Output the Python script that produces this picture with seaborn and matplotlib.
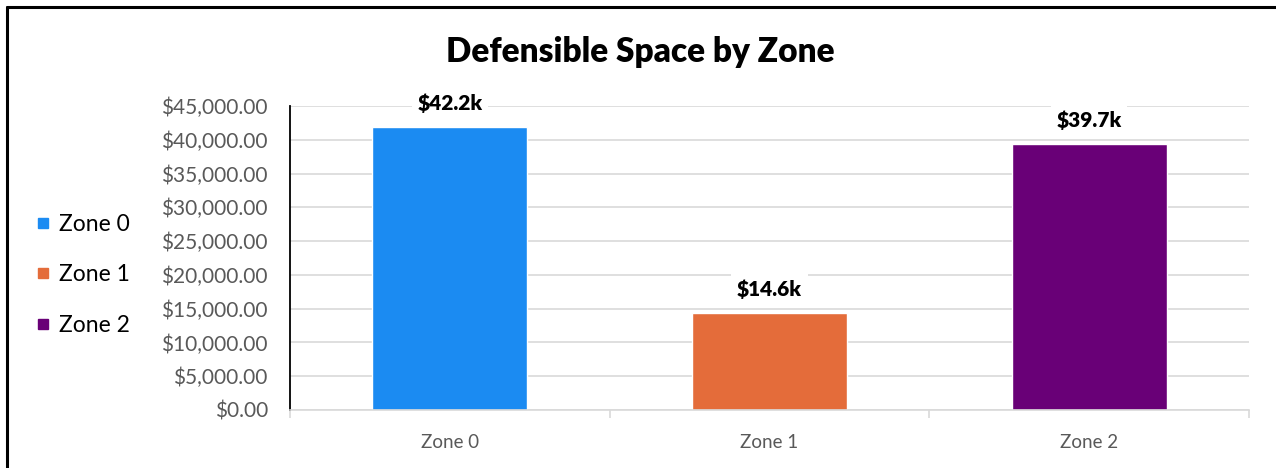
import matplotlib
matplotlib.use("Agg")
import matplotlib.pyplot as plt
from matplotlib.lines import Line2D
from matplotlib.ticker import FuncFormatter, FixedLocator
import seaborn as sns
import pandas as pd

# data
zones = ["Zone 0", "Zone 1", "Zone 2"]
costs = [41850, 14350, 39400]
cost_labels = ["$42.2k", "$14.6k", "$39.7k"]
colors = ["#1B8BF2", "#E46C3A", "#690077"]

df = pd.DataFrame({"zone": zones, "cost": costs})

sns.set_style("white")
plt.rcParams["font.family"] = ["Lato", "DejaVu Sans"]
plt.rcParams["text.color"] = "black"

fig = plt.figure(figsize=(12.76, 4.68), dpi=100)
ax = fig.add_axes([290 / 1276, 1 - 410 / 468, (1249 - 290) / 1276, (410 - 106) / 468])

sns.barplot(data=df, x="zone", y="cost", hue="zone", palette=colors,
            width=0.485, legend=False, ax=ax, saturation=1)

ax.set_ylim(0, 45000)
ax.set_xlim(-0.5, 2.5)
ax.set_yticks(range(0, 45001, 5000))
ax.yaxis.set_major_formatter(FuncFormatter(lambda v, p: f"${v:,.2f}"))
ax.grid(axis="y", color="#d9d9d9", linewidth=1.2)
ax.set_axisbelow(True)
ax.set_xlabel("")
ax.set_ylabel("")

for s in ["top", "right"]:
    ax.spines[s].set_visible(False)
ax.spines["left"].set_color("black")
ax.spines["left"].set_linewidth(1.3)
ax.spines["bottom"].set_color("#d9d9d9")
ax.spines["bottom"].set_linewidth(1.2)

ax.tick_params(axis="y", length=0, pad=16, labelsize=15, labelcolor="#595959")
ax.tick_params(axis="x", which="major", length=0, pad=17, labelsize=13.5, labelcolor="#595959")
ax.xaxis.set_minor_locator(FixedLocator([-0.5, 0.5, 1.5, 2.5]))
ax.tick_params(axis="x", which="minor", length=6, width=1.2, color="#d9d9d9", bottom=True)

for cont, lab in zip(ax.containers, cost_labels):
    ax.bar_label(cont, labels=[lab], padding=10, fontsize=15, fontweight="heavy",
                 color="black",
                 bbox=dict(facecolor="white", edgecolor="none", pad=4))

fig.suptitle("Defensible Space by Zone", x=0.502, y=1 - 52 / 468, va="center",
             fontsize=24, fontweight="heavy", color="black")

handles = [Line2D([], [], marker="s", linestyle="none", markersize=7,
                  markerfacecolor=c, markeredgecolor=c) for c in colors]
fig.legend(handles, zones, loc="upper left", bbox_to_anchor=(12 / 1276, 1 - 193 / 468),
           frameon=False, fontsize=16.5, labelspacing=1.3, handletextpad=0.25,
           handlelength=0.9, labelcolor="black")

# frame lines on the top and left edges
fig.add_artist(Line2D([7 / 1276, 7 / 1276], [0, 1 - 7 / 468], color="black", linewidth=2.2))
fig.add_artist(Line2D([7 / 1276, 1], [1 - 7 / 468, 1 - 7 / 468], color="black", linewidth=2.2))

fig.savefig("out.png", dpi=100)
